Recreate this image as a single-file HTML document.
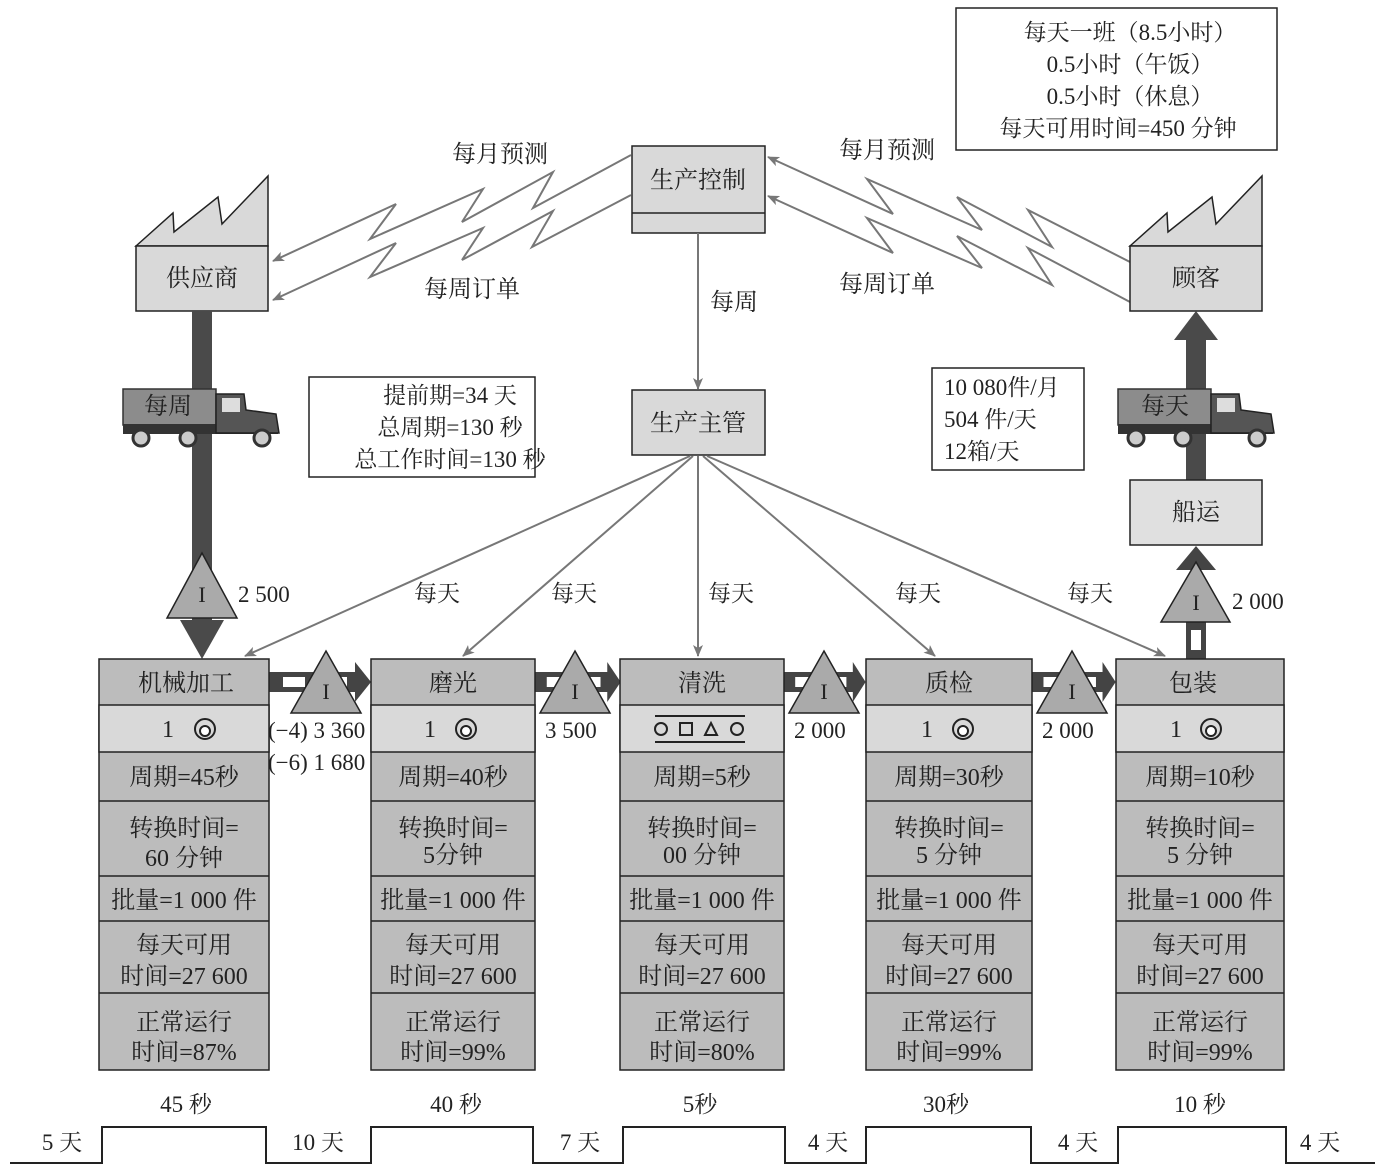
<!DOCTYPE html>
<html><head><meta charset="utf-8"><style>
html,body{margin:0;padding:0;background:#fff}
svg{display:block}
text{font-family:"Liberation Serif","Noto Serif CJK SC","Noto Sans CJK SC",serif;fill:#222}
</style></head><body>
<svg width="1389" height="1173" viewBox="0 0 1389 1173" xmlns="http://www.w3.org/2000/svg">
<defs>
<marker id="ga" markerWidth="12" markerHeight="10" refX="11" refY="5" orient="auto" markerUnits="userSpaceOnUse">
<path d="M0,0 L12,5 L0,10 L3,5 Z" fill="#777"/></marker>
<g id="truck">
<rect x="123" y="389" width="93" height="36" fill="#8c8c8c" stroke="#333" stroke-width="1.5"/>
<rect x="123" y="424" width="155" height="10" fill="#333"/>
<path d="M216,394 L244,394 L246,410 L276,414 L279,433 L216,433 Z" fill="#555" stroke="#222" stroke-width="1.5"/>
<rect x="222" y="398" width="18" height="14" fill="#ddd"/>
<g fill="#ccc" stroke="#333" stroke-width="3"><circle cx="141" cy="438" r="8"/><circle cx="188" cy="438" r="8"/><circle cx="262" cy="438" r="8"/></g>
</g>
<g id="push">
<rect x="0" y="672" width="88" height="20" fill="#444"/>
<rect x="14" y="677" width="22" height="10" fill="#fff"/>
<rect x="56" y="677" width="22" height="10" fill="#fff"/>
<path d="M86,662 L102,682 L86,702 Z" fill="#444"/>
</g>
<g id="op"><circle cx="0" cy="0" r="10" fill="none" stroke="#222" stroke-width="2"/><circle cx="0" cy="2" r="5" fill="#fff" stroke="#222" stroke-width="2"/></g>
</defs>

<rect x="956" y="8" width="321" height="142" fill="#fff" stroke="#222" stroke-width="1.5"/>
<g font-size="23" text-anchor="middle">
<text x="1130" y="40">每天一班（8.5小时）</text>
<text x="1130" y="72">0.5小时（午饭）</text>
<text x="1130" y="104">0.5小时（休息）</text>
<text x="1118" y="136">每天可用时间=450 分钟</text>
</g>

<rect x="632" y="146" width="133" height="87" fill="#d9d9d9" stroke="#222" stroke-width="1.5"/>
<line x1="632" y1="213" x2="765" y2="213" stroke="#222" stroke-width="1.5"/>
<text x="698" y="188" font-size="24" text-anchor="middle">生产控制</text>

<g fill="none" stroke="#777" stroke-width="2" marker-end="url(#ga)">
<polyline points="631,155 533,208 553,172 462,222 483,189 370,239 396,204 273,261"/>
<polyline points="631,195 532,247 553,211 462,260 483,228 370,277 396,243 273,300"/>
<polyline points="1130,262 1028,210 1052,247 957,197 982,230 867,179 893,214 768,157"/>
<polyline points="1130,302 1028,248 1052,285 957,236 982,268 867,218 893,253 768,196"/>
</g>
<g font-size="24" text-anchor="middle">
<text x="500" y="162">每月预测</text>
<text x="472" y="297">每周订单</text>
<text x="887" y="158">每月预测</text>
<text x="887" y="292">每周订单</text>
<text x="734" y="310">每周</text>
</g>

<path d="M136,246 L173,213 L174,232 L218,197 L222,224 L268,176 L268,246 Z" fill="#d9d9d9" stroke="#222" stroke-width="1.5"/>
<rect x="136" y="246" width="132" height="65" fill="#d9d9d9" stroke="#222" stroke-width="1.5"/>
<text x="202" y="286" font-size="24" text-anchor="middle">供应商</text>
<path d="M1130,246 L1167,213 L1168,232 L1212,197 L1216,224 L1262,176 L1262,246 Z" fill="#d9d9d9" stroke="#222" stroke-width="1.5"/>
<rect x="1130" y="246" width="132" height="65" fill="#d9d9d9" stroke="#222" stroke-width="1.5"/>
<text x="1196" y="286" font-size="24" text-anchor="middle">顾客</text>

<rect x="192" y="311" width="20" height="315" fill="#4a4a4a"/>
<path d="M180,620 L224,620 L202,659 Z" fill="#4a4a4a"/>
<path d="M202,553 L237,618 L167,618 Z" fill="#aaa" stroke="#222" stroke-width="1.5"/>
<text x="202" y="602" font-size="22" text-anchor="middle">I</text>
<text x="238" y="602" font-size="23">2 500</text>
<use href="#truck"/>
<text x="168" y="414" font-size="24" text-anchor="middle">每周</text>

<rect x="1186" y="338" width="20" height="142" fill="#4a4a4a"/>
<path d="M1174,340 L1196,311 L1218,340 Z" fill="#4a4a4a"/>
<use href="#truck" transform="translate(995,0)"/>
<text x="1165" y="414" font-size="24" text-anchor="middle">每天</text>
<rect x="1130" y="480" width="132" height="65" fill="#e0e0e0" stroke="#222" stroke-width="1.5"/>
<text x="1196" y="520" font-size="24" text-anchor="middle">船运</text>
<rect x="1186" y="620" width="20" height="39" fill="#444"/>
<rect x="1191" y="630" width="10" height="20" fill="#fff"/>
<path d="M1176,570 L1196,546 L1216,570 Z" fill="#444"/>
<path d="M1196,562 L1230,622 L1161,622 Z" fill="#aaa" stroke="#222" stroke-width="1.5"/>
<text x="1196" y="610" font-size="22" text-anchor="middle">I</text>
<text x="1232" y="609" font-size="23">2 000</text>

<rect x="309" y="377" width="226" height="100" fill="#fff" stroke="#222" stroke-width="1.5"/>
<g font-size="23" text-anchor="middle">
<text x="450" y="403">提前期=34 天</text>
<text x="450" y="435">总周期=130 秒</text>
<text x="450" y="467">总工作时间=130 秒</text>
</g>
<rect x="932" y="368" width="152" height="102" fill="#fff" stroke="#222" stroke-width="1.5"/>
<g font-size="23">
<text x="944" y="395">10 080件/月</text>
<text x="944" y="427">504 件/天</text>
<text x="944" y="459">12箱/天</text>
</g>

<rect x="632" y="390" width="133" height="65" fill="#d9d9d9" stroke="#222" stroke-width="1.5"/>
<text x="698" y="431" font-size="24" text-anchor="middle">生产主管</text>
<line x1="698" y1="233" x2="698" y2="389" stroke="#777" stroke-width="2" marker-end="url(#ga)"/>
<g stroke="#777" stroke-width="2" marker-end="url(#ga)">
<line x1="690" y1="456" x2="245" y2="656"/>
<line x1="693" y1="456" x2="463" y2="656"/>
<line x1="698" y1="456" x2="698" y2="656"/>
<line x1="703" y1="456" x2="935" y2="656"/>
<line x1="707" y1="456" x2="1165" y2="656"/>
</g>
<g font-size="23" text-anchor="middle">
<text x="437" y="601">每天</text><text x="574" y="601">每天</text><text x="731" y="601">每天</text><text x="918" y="601">每天</text><text x="1090" y="601">每天</text>
</g>

<use href="#push" transform="translate(269,0)"/>
<use href="#push" transform="translate(535,0) scale(0.84,1)"/>
<use href="#push" transform="translate(784,0) scale(0.8,1)"/>
<use href="#push" transform="translate(1032,0) scale(0.82,1)"/>
<g fill="#aaa" stroke="#222" stroke-width="1.5">
<path d="M326,651 L361,713 L291,713 Z"/>
<path d="M575,651 L610,713 L540,713 Z"/>
<path d="M824,651 L859,713 L789,713 Z"/>
<path d="M1072,651 L1107,713 L1037,713 Z"/>
</g>
<g font-size="22" text-anchor="middle">
<text x="326" y="699">I</text><text x="575" y="699">I</text><text x="824" y="699">I</text><text x="1072" y="699">I</text>
</g>
<g font-size="23">
<text x="268" y="738">(−4) 3 360</text>
<text x="268" y="770">(−6) 1 680</text>
<text x="545" y="738">3 500</text>
<text x="794" y="738">2 000</text>
<text x="1042" y="738">2 000</text>
</g>

<g stroke="#222" stroke-width="1.5">
<rect x="99" y="659" width="170" height="411" fill="#bcbcbc"/>
<rect x="371" y="659" width="164" height="411" fill="#bcbcbc"/>
<rect x="620" y="659" width="164" height="411" fill="#bcbcbc"/>
<rect x="866" y="659" width="166" height="411" fill="#bcbcbc"/>
<rect x="1116" y="659" width="168" height="411" fill="#bcbcbc"/>
<rect x="99" y="705" width="170" height="47" fill="#d9d9d9"/>
<rect x="371" y="705" width="164" height="47" fill="#d9d9d9"/>
<rect x="620" y="705" width="164" height="47" fill="#d9d9d9"/>
<rect x="866" y="705" width="166" height="47" fill="#d9d9d9"/>
<rect x="1116" y="705" width="168" height="47" fill="#d9d9d9"/>
<path d="M99,801 H269 M99,876 H269 M99,921 H269 M99,993 H269 M371,801 H535 M371,876 H535 M371,921 H535 M371,993 H535 M620,801 H784 M620,876 H784 M620,921 H784 M620,993 H784 M866,801 H1032 M866,876 H1032 M866,921 H1032 M866,993 H1032 M1116,801 H1284 M1116,876 H1284 M1116,921 H1284 M1116,993 H1284"/>
</g>
<g font-size="24" text-anchor="middle">
<text x="186" y="691">机械加工</text><text x="453" y="691">磨光</text><text x="702" y="691">清洗</text><text x="949" y="691">质检</text><text x="1193" y="691">包装</text>
<text x="168" y="737">1</text><text x="430" y="737">1</text><text x="927" y="737">1</text><text x="1176" y="737">1</text>
<text x="184" y="785">周期=45秒</text><text x="453" y="785">周期=40秒</text><text x="702" y="785">周期=5秒</text><text x="949" y="785">周期=30秒</text><text x="1200" y="785">周期=10秒</text>
<text x="184" y="836">转换时间=</text><text x="184" y="866">60 分钟</text>
<text x="453" y="836">转换时间=</text><text x="453" y="863">5分钟</text>
<text x="702" y="836">转换时间=</text><text x="702" y="863">00 分钟</text>
<text x="949" y="836">转换时间=</text><text x="949" y="863">5 分钟</text>
<text x="1200" y="836">转换时间=</text><text x="1200" y="863">5 分钟</text>
<text x="184" y="908">批量=1 000 件</text><text x="453" y="908">批量=1 000 件</text><text x="702" y="908">批量=1 000 件</text><text x="949" y="908">批量=1 000 件</text><text x="1200" y="908">批量=1 000 件</text>
<text x="184" y="953">每天可用</text><text x="184" y="984">时间=27 600</text>
<text x="453" y="953">每天可用</text><text x="453" y="984">时间=27 600</text>
<text x="702" y="953">每天可用</text><text x="702" y="984">时间=27 600</text>
<text x="949" y="953">每天可用</text><text x="949" y="984">时间=27 600</text>
<text x="1200" y="953">每天可用</text><text x="1200" y="984">时间=27 600</text>
<text x="184" y="1030">正常运行</text><text x="184" y="1060">时间=87%</text>
<text x="453" y="1030">正常运行</text><text x="453" y="1060">时间=99%</text>
<text x="702" y="1030">正常运行</text><text x="702" y="1060">时间=80%</text>
<text x="949" y="1030">正常运行</text><text x="949" y="1060">时间=99%</text>
<text x="1200" y="1030">正常运行</text><text x="1200" y="1060">时间=99%</text>
</g>
<use href="#op" x="205" y="729"/><use href="#op" x="466" y="729"/><use href="#op" x="963" y="729"/><use href="#op" x="1211" y="729"/>
<g fill="none" stroke="#222" stroke-width="2">
<line x1="655" y1="716" x2="745" y2="716"/><line x1="655" y1="742" x2="745" y2="742"/>
<circle cx="661" cy="729" r="6"/><rect x="680" y="723" width="12" height="12"/><path d="M705,735 L711,723 L717,735 Z"/><circle cx="737" cy="729" r="6"/>
</g>

<polyline points="10,1163 102,1163 102,1127 266,1127 266,1163 371,1163 371,1127 533,1127 533,1163 623,1163 623,1127 785,1127 785,1163 866,1163 866,1127 1031,1127 1031,1163 1118,1163 1118,1127 1286,1127 1286,1163 1375,1163" fill="none" stroke="#222" stroke-width="2"/>
<g font-size="23" text-anchor="middle">
<text x="186" y="1112">45 秒</text><text x="456" y="1112">40 秒</text><text x="700" y="1112">5秒</text><text x="946" y="1112">30秒</text><text x="1200" y="1112">10 秒</text>
<text x="62" y="1150">5 天</text><text x="318" y="1150">10 天</text><text x="580" y="1150">7 天</text><text x="828" y="1150">4 天</text><text x="1078" y="1150">4 天</text><text x="1320" y="1150">4 天</text>
</g>
</svg>
</body></html>
